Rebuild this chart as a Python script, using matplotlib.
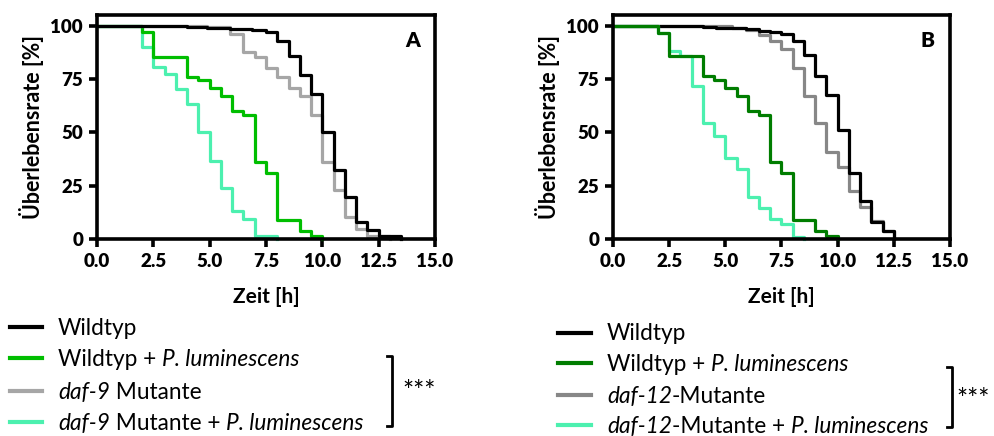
import numpy as np
import matplotlib.pyplot as plt
from matplotlib.lines import Line2D

plt.rcParams['font.family'] = ['Lato', 'DejaVu Sans']

# ---- panel A: daf-9 ----
wt_a_t = [0, 4.0, 4.9, 5.9, 6.9, 7.5, 8.0, 8.5, 9.0, 9.5, 10.0, 10.5, 11.0, 11.5, 12.0, 12.5, 13.5]
wt_a_s = [100, 99.5, 99, 98.5, 98, 97, 93, 86, 77, 68, 50, 32.5, 19.5, 8, 4, 1.2, 0]
mut_a_t = [0, 4.0, 4.9, 5.9, 6.5, 7.0, 7.5, 8.0, 8.5, 9.0, 9.5, 10.0, 10.5, 11.0, 11.5, 12.0, 13.0]
mut_a_s = [100, 99.7, 99.5, 96, 87.5, 85.5, 80, 76, 71, 67, 58, 36, 23, 10.5, 4.7, 1.2, 0]
wtp_a_t = [0, 2.0, 2.5, 4.0, 4.5, 5.0, 5.5, 6.0, 6.5, 7.0, 7.5, 8.0, 9.0, 9.5, 10.0]
wtp_a_s = [100, 97, 85.5, 76, 74.5, 70.8, 67, 60, 58.3, 36, 31, 9, 3.6, 1.6, 0]
mutp_a_t = [0, 2.0, 2.5, 3.0, 3.5, 4.0, 4.5, 5.0, 5.5, 6.0, 6.5, 7.0, 8.0]
mutp_a_s = [100, 90, 80.5, 77.5, 70.5, 63.3, 50.2, 36.7, 23.7, 13, 9.5, 1.3, 0]

# ---- panel B: daf-12 ----
wt_b_t = [0, 4.0, 4.6, 5.9, 6.5, 7.0, 7.5, 8.0, 8.5, 9.0, 9.5, 10.0, 10.5, 11.0, 11.5, 12.0, 12.5]
wt_b_s = [100, 99.5, 99, 98.5, 97.5, 97, 96, 92.6, 86.3, 76.5, 67.5, 51, 31, 18, 7.8, 3.6, 0]
mut_b_t = [0, 4.0, 5.3, 5.9, 6.5, 7.0, 7.5, 8.0, 8.5, 9.0, 9.5, 10.0, 10.5, 11.0, 11.5, 12.0, 12.5]
mut_b_s = [100, 99.7, 99, 98, 95.8, 92.6, 89, 80, 67, 54.5, 40.8, 33.8, 22.4, 14.9, 8.3, 3.9, 0]
wtp_b_t = [0, 2.0, 2.5, 4.0, 4.5, 5.0, 5.5, 6.0, 6.5, 7.0, 7.5, 8.0, 9.0, 9.5, 10.0]
wtp_b_s = [100, 96.5, 85.6, 76.5, 74.6, 70.6, 67, 60, 58.1, 36.1, 30.9, 8.9, 3.9, 1.6, 0]
mutp_b_t = [0, 2.0, 2.5, 3.0, 3.5, 4.0, 4.5, 5.0, 5.5, 6.0, 6.5, 7.0, 7.5, 8.0, 8.5]
mutp_b_s = [100, 96.5, 88, 86, 71.5, 54.5, 48.2, 38.1, 33, 19.6, 14.6, 9.4, 7.1, 1.1, 0]

x_ticks = [0, 2.5, 5, 7.5, 10, 12.5, 15]
y_ticks = [0, 25, 50, 75, 100]

legend_a = [
    [("Wildtyp", "normal")],
    [("Wildtyp + ", "normal"), ("P. luminescens", "italic")],
    [("daf-9", "italic"), (" Mutante", "normal")],
    [("daf-9", "italic"), (" Mutante + ", "normal"), ("P. luminescens", "italic")],
]
legend_b = [
    [("Wildtyp", "normal")],
    [("Wildtyp + ", "normal"), ("P. luminescens", "italic")],
    [("daf-12", "italic"), ("-Mutante", "normal")],
    [("daf-12", "italic"), ("-Mutante + ", "normal"), ("P. luminescens", "italic")],
]

C_BLACK = "#000000"
C_GREEN_A = "#00BE00"
C_GRAY_A = "#A6A6A6"
C_CYAN = "#4CF0AF"
C_GREEN_B = "#007D00"
C_GRAY_B = "#878787"

W, H = 995, 436
fig = plt.figure(figsize=(W / 100, H / 100), dpi=100)


def fx(px):
    return px / W


def fy(py):
    return 1 - py / H


def setup(ax, letter):
    ax.set_xlim(0, 15)
    ax.set_ylim(0, 105)
    ax.set_xticks(x_ticks)
    ax.set_xticklabels([f"{v:.1f}" for v in x_ticks])
    ax.set_yticks(y_ticks)
    for s in ax.spines.values():
        s.set_linewidth(2.6)
    ax.tick_params(direction="out", length=6, width=2.6, labelsize=13.5, pad=4)
    for lab in ax.get_xticklabels() + ax.get_yticklabels():
        lab.set_fontweight("heavy")
    ax.set_ylabel("Überlebensrate [%]", fontsize=15.5, fontweight="bold", labelpad=5)
    ax.set_xlabel("Zeit [h]", fontsize=15, fontweight="bold", labelpad=12)
    ax.text(0.955, 0.885, letter, transform=ax.transAxes, ha="right", va="center",
            fontsize=15, fontweight="heavy")


lw = 2.3
axA = fig.add_axes([fx(97), fy(239), fx(435) - fx(97), (239 - 15) / H])
axA.step(mutp_a_t, mutp_a_s, where="post", color=C_CYAN, lw=lw, clip_on=False)
axA.step(wtp_a_t, wtp_a_s, where="post", color=C_GREEN_A, lw=lw, clip_on=False)
axA.step(mut_a_t, mut_a_s, where="post", color=C_GRAY_A, lw=lw, clip_on=False)
axA.step(wt_a_t, wt_a_s, where="post", color=C_BLACK, lw=lw, clip_on=False)
setup(axA, "A")

axB = fig.add_axes([fx(613), fy(239), fx(950) - fx(613), (239 - 15) / H])
axB.step(mut_b_t, mut_b_s, where="post", color=C_GRAY_B, lw=lw, clip_on=False)
axB.step(wt_b_t, wt_b_s, where="post", color=C_BLACK, lw=lw, clip_on=False)
axB.step(mutp_b_t, mutp_b_s, where="post", color=C_CYAN, lw=lw, clip_on=False)
axB.step(wtp_b_t, wtp_b_s, where="post", color=C_GREEN_B, lw=lw, clip_on=False)
setup(axB, "B")

renderer = fig.canvas.get_renderer()


def rich_text(x, y, pieces, size=16.3):
    for s, style in pieces:
        t = fig.text(x, y, s, fontsize=size, style=style, ha="left", va="center")
        bb = t.get_window_extent(renderer=renderer)
        x = bb.x1 / fig.bbox.width


def draw_legend(x0, x1, xt, rows_y, colors, labels, br_x, br_y0, br_y1, star_x, star_y):
    for y, c, lab in zip(rows_y, colors, labels):
        fig.add_artist(Line2D([fx(x0), fx(x1)], [fy(y), fy(y)], color=c, lw=3))
        rich_text(fx(xt), fy(y + 1), lab)
    fig.add_artist(Line2D([fx(br_x - 5), fx(br_x), fx(br_x), fx(br_x - 5)],
                          [fy(br_y0), fy(br_y0), fy(br_y1), fy(br_y1)],
                          color="black", lw=2))
    fig.text(fx(star_x), fy(star_y), "***", fontsize=19, ha="left", va="center")


draw_legend(10, 42, 58, [327, 358, 391, 422],
            [C_BLACK, C_GREEN_A, C_GRAY_A, C_CYAN], legend_a,
            392, 356, 426, 402, 392)
draw_legend(558, 591, 607, [333, 363, 395, 425],
            [C_BLACK, C_GREEN_B, C_GRAY_B, C_CYAN], legend_b,
            952, 367, 427, 956, 400)

fig.savefig("out.png", dpi=100, facecolor="white")
